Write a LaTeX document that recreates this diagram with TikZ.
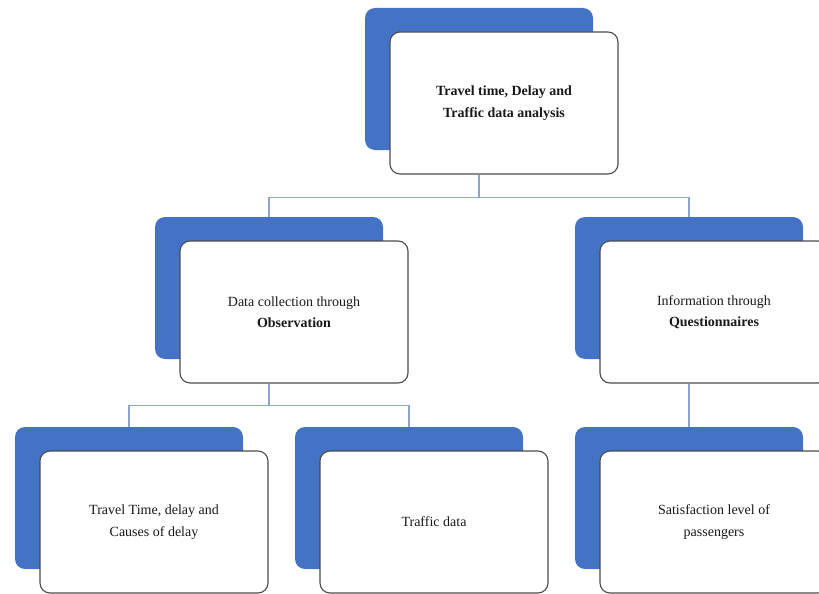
\documentclass[tikz,border=0pt]{standalone}
\usepackage{fontspec}
\setmainfont{Liberation Serif}
\usepackage{tikz}
\usetikzlibrary{positioning,calc}
\definecolor{boxblue}{HTML}{4472C4}
\definecolor{linkblue}{HTML}{8EA2CE}

\begin{document}
\begin{tikzpicture}[x=1pt,y=-1pt,
	back/.style={fill=boxblue, rounded corners=10pt, minimum width=228pt, minimum height=142pt, inner sep=0pt},
	front/.style={draw=black!70, line width=1.1pt, fill=white, rounded corners=10pt, minimum width=228pt, minimum height=142pt, align=center, text=black!90, font=\fontsize{14}{21.5}\selectfont},
	link/.style={draw=linkblue, line width=1.3pt}]
	\useasboundingbox (0,0) rectangle (819,594);
	\clip (0,0) rectangle (819,594);
	% top level
	\node[back] (topb) at (479,79) {};
	\node[front] (top) at ($(topb)+(25,24)$) {\textbf{Travel time, Delay and}\\\textbf{Traffic data analysis}};
	% second level
	\node[back] (obsb) at (269,288) {};
	\node[front] (obs) at ($(obsb)+(25,24)$) {Data collection through\\\textbf{Observation}};
	\node[back] (qb) at (689,288) {};
	\node[front] (q) at ($(qb)+(25,24)$) {Information through\\\textbf{Questionnaires}};
	% third level
	\node[back] (ttb) at (129,498) {};
	\node[front] (tt) at ($(ttb)+(25,24)$) {Travel Time, delay and\\Causes of delay};
	\node[back] (tdb) at (409,498) {};
	\node[front] (td) at ($(tdb)+(25,24)$) {Traffic data};
	\node[back] (satb) at (689,498) {};
	\node[front] (sat) at ($(satb)+(25,24)$) {Satisfaction level of\\passengers};
	% connectors
	\draw[link] (topb.south |- top.south) -- ++(0,23) coordinate (j1);
	\draw[link] (j1) -| (obsb.north);
	\draw[link] (j1) -| (qb.north);
	\draw[link] (obsb.south |- obs.south) -- ++(0,22) coordinate (j2);
	\draw[link] (j2) -| (ttb.north);
	\draw[link] (j2) -| (tdb.north);
	\draw[link] (qb.south |- q.south) -- (satb.north);
\end{tikzpicture}
\end{document}
